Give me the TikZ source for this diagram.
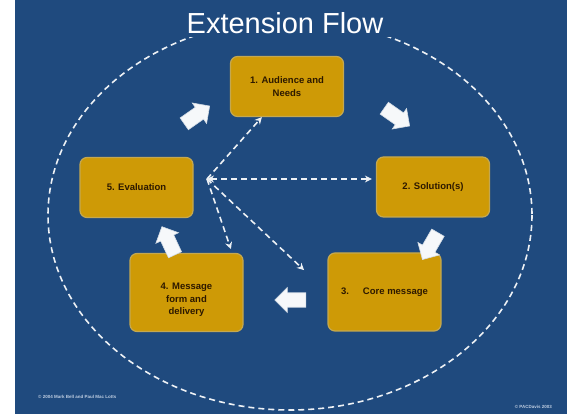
\documentclass[tikz,border=0pt]{standalone}
\usepackage{fontspec}
\setmainfont{Liberation Sans}
\usetikzlibrary{shapes.arrows,arrows.meta,calc}
\definecolor{bgblue}{RGB}{31,74,126}
\definecolor{goldfill}{RGB}{206,154,6}
\definecolor{goldedge}{RGB}{196,168,80}
\definecolor{boxtext}{RGB}{45,25,0}
\definecolor{arrowfill}{RGB}{246,248,250}
\definecolor{foot}{RGB}{190,205,225}
\tikzset{
  stagebox/.style={rounded corners=7pt, fill=goldfill, draw=goldedge, line width=1.2pt,
    minimum width=113pt, align=center, text=boxtext,
    font=\fontsize{9.5}{12.5}\selectfont\bfseries, inner sep=2pt},
  stagelabel/.style={align=center, text=boxtext,
    font=\fontsize{9.5}{12.5}\selectfont\bfseries, inner sep=0pt},
  flowarrow/.style={single arrow, fill=arrowfill, draw=white!80!bgblue, line width=0.6pt,
    minimum height=31pt, minimum width=25pt, single arrow head extend=5pt, inner sep=6.5pt},
  dashline/.style={draw=white!92!bgblue, line width=1.6pt, dash pattern=on 6pt off 4pt},
  dasharrow/.style={dashline, -{Stealth[length=7pt,width=7pt]}},
  titletext/.style={text=white, font=\fontsize{29}{32}\selectfont, fill=bgblue, inner sep=3pt},
  footnote/.style={text=foot, font=\fontsize{4.5}{5}\selectfont\bfseries, inner sep=0pt}
}
\begin{document}
\begin{tikzpicture}[x=1pt,y=-1pt]
\useasboundingbox (0,0) rectangle (584,419);
\fill[white] (0,0) rectangle (584,419);
\fill[bgblue] (15,0) rectangle (567,414);
\draw[dashline] (290,215) ellipse [x radius=242, y radius=195];
\node[titletext, minimum width=220pt] (title) at (285,23) {Extension Flow};

\node[stagebox, minimum height=60pt] (b1) at (287,86.5) {1. Audience and\\Needs};
\node[stagebox, minimum height=60pt] (b2) at (433,187) {2. Solution(s)};
\node[stagebox, minimum height=78pt] (b3) at (384.5,292) {3.\hspace{14pt}Core message};
\node[stagebox, minimum height=78pt] (b4) at (186.5,292.5) {};
\node[stagelabel] (t4) at (186.5,300) {4. Message\\form and\\delivery};
\node[stagebox, minimum height=60pt] (b5) at (136.5,187.5) {5. Evaluation};

\node[flowarrow, rotate=35] (a51) at (194,117) {};
\node[flowarrow, rotate=-35] (a12) at (394,115) {};
\node[flowarrow, rotate=-120] (a23) at (432,243) {};
\node[flowarrow, rotate=180] (a34) at (294,300) {};
\node[flowarrow, rotate=115] (a45) at (170,244) {};

\coordinate (s) at (207,179);
\draw[dasharrow] (s) -- ($(b1.south west)!0.28!(b1.south east)$);
\draw[dasharrow, {Stealth[length=7pt,width=7pt]}-{Stealth[length=7pt,width=7pt]}, shorten >=4pt] (s) -- (s -| b2.west);
\draw[dasharrow, shorten >=4pt] (s) -- ($(b4.north west)!0.9!(b4.north east)$);
\draw[dasharrow, shorten >=32pt] (s) -- (b3.west);

\node[footnote, anchor=west] (fl) at (38,397) {© 2004 Mark Bell and Paul Mac Lotts};
\node[footnote, anchor=east] (fr) at (552,407) {© PACDavis 2003};
\end{tikzpicture}
\end{document}
